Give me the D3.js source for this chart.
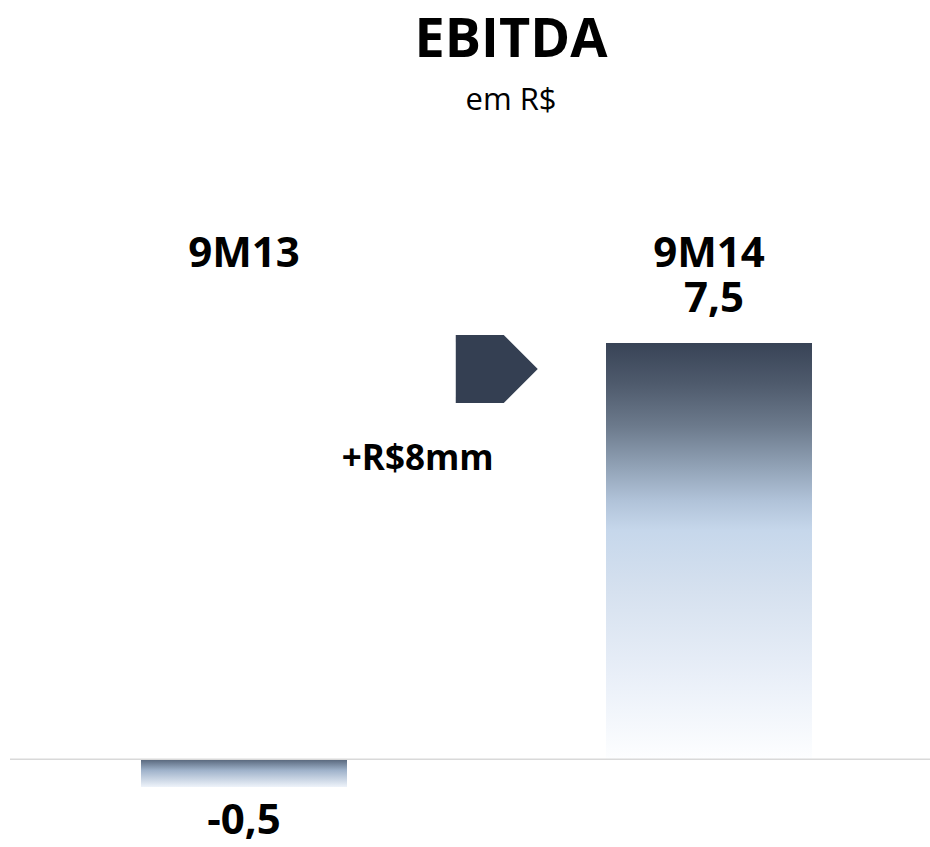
<!DOCTYPE html>
<html>
<head>
<meta charset="utf-8">
<script src="https://cdn.jsdelivr.net/npm/d3@7"></script>
<style>
	body { margin: 0; background: #ffffff; }
	svg { display: block; }
	text { font-family: 'Open Sans', 'Noto Sans', sans-serif; fill: #000000; }
	.title { font-weight: 700; font-size: 54px; }
	.subtitle { font-size: 31px; }
	.label { font-weight: 700; font-size: 42px; }
	.delta { font-weight: 700; font-size: 35px; }
</style>
</head>
<body>
<svg width="930" height="847"></svg>
<script>
// chart data
const categories = ['9M13', '9M14'];
const values = [-0.5, 7.5];
const valueLabels = ['-0,5', '7,5'];
const deltaLabel = '+R$8mm';
const titleText = 'EBITDA';
const subtitleText = 'em R$';

let svg = d3.select('svg');
let defs = svg.append('defs');

// gradients (dark at top, fading to white)
let gradUp = defs.append('linearGradient').attr('id', 'gradUp')
	.attr('x1', 0).attr('y1', 0).attr('x2', 0).attr('y2', 1);
[[0, '#384356'], [0.1, '#4f5b6d'], [0.2, '#6c7a8c'], [0.3, '#92a3b7'], [0.38, '#b1c3d9'],
 [0.45, '#c6d7eb'], [0.6, '#d6e1ef'], [0.8, '#e9eff8'], [1, '#fdfeff']].forEach(function(s) {
	gradUp.append('stop').attr('offset', s[0]).attr('stop-color', s[1]);
});
let gradDown = defs.append('linearGradient').attr('id', 'gradDown')
	.attr('x1', 0).attr('y1', 0).attr('x2', 0).attr('y2', 1);
[[0, '#56657a'], [0.4, '#9fb2ca'], [1, '#eef3fa']].forEach(function(s) {
	gradDown.append('stop').attr('offset', s[0]).attr('stop-color', s[1]);
});

// scales
let xScale = d3.scaleBand().domain(categories).range([141, 812]).paddingInner(0.557).paddingOuter(0);
let yScale = d3.scaleLinear().domain([-0.5, 7.5]).range([787, 343]);
let bw = xScale.bandwidth();

// title
svg.append('text').attr('class', 'title')
	.attr('x', 511).attr('y', 57).attr('text-anchor', 'middle')
	.text(titleText);
svg.append('text').attr('class', 'subtitle')
	.attr('x', 511).attr('y', 110).attr('text-anchor', 'middle')
	.text(subtitleText);

// bars
svg.selectAll('rect.bar').data(values).enter().append('rect')
	.attr('class', 'bar')
	.attr('x', function(d, i) { return xScale(categories[i]); })
	.attr('y', function(d) { return yScale(Math.max(0, d)); })
	.attr('width', bw)
	.attr('height', function(d) { return Math.abs(yScale(d) - yScale(0)); })
	.attr('fill', function(d) { return d >= 0 ? 'url(#gradUp)' : 'url(#gradDown)'; });

// baseline
svg.append('line')
	.attr('x1', 10).attr('x2', 930)
	.attr('y1', yScale(0)).attr('y2', yScale(0))
	.attr('stroke', '#d9d9d9').attr('stroke-width', 1.5);

// category labels
svg.selectAll('text.cat').data(categories).enter().append('text')
	.attr('class', 'label cat')
	.attr('x', function(d) { return xScale(d) + bw / 2; })
	.attr('y', 267)
	.attr('text-anchor', 'middle')
	.text(function(d) { return d; });

// value labels
svg.selectAll('text.val').data(values).enter().append('text')
	.attr('class', 'label val')
	.attr('x', function(d, i) { return xScale(categories[i]) + bw / 2 + (d >= 0 ? 5 : 0); })
	.attr('y', function(d) { return d >= 0 ? yScale(d) - 31 : yScale(d) + 47; })
	.attr('text-anchor', 'middle')
	.text(function(d, i) { return valueLabels[i]; });

// change arrow between bars
let gapLeft = xScale(categories[0]) + bw;
let gapRight = xScale(categories[1]);
let ax = gapLeft + (gapRight - gapLeft) * 0.42;
let ay = yScale(values[1]) - 8;
let arrow = d3.path();
arrow.moveTo(ax, ay);
arrow.lineTo(ax + 48, ay);
arrow.lineTo(ax + 82, ay + 34);
arrow.lineTo(ax + 48, ay + 68);
arrow.lineTo(ax, ay + 68);
arrow.closePath();
svg.append('path').attr('d', arrow.toString()).attr('fill', '#343f52');

svg.append('text').attr('class', 'delta')
	.attr('x', ax - 38).attr('y', ay + 135).attr('text-anchor', 'middle')
	.text(deltaLabel);
</script>
</body>
</html>
